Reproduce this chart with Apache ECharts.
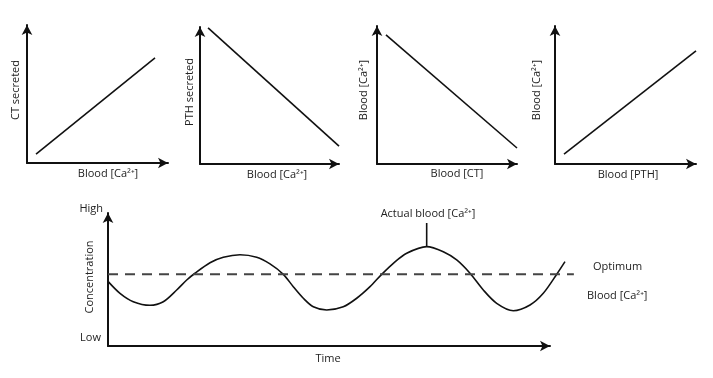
<!DOCTYPE html>
<html>
<head>
<meta charset="utf-8">
<script src="https://cdn.jsdelivr.net/npm/echarts@6/dist/echarts.min.js"></script>
<style>html,body{margin:0;padding:0;background:#fff}#c{width:713px;height:378px}</style>
</head>
<body>
<div id="c"></div>
<script>
// ---- data ----
const ctSecreted = [[0.64, 0.65], [9.08, 7.61]];        // CT secreted vs blood Ca
const pthSecreted = [[0.58, 9.93], [10.0, 1.31]];       // PTH secreted vs blood Ca
const caVsCT = [[0.64, 9.35], [10.0, 1.16]];            // blood Ca vs blood CT
const caVsPTH = [[0.64, 0.72], [10.0, 8.2]];            // blood Ca vs blood PTH
const timeX = [0, 2.71, 5.72, 9.50, 12.51, 15.54, 17.81, 19.68, 23.08, 26.09, 29.86, 33.64, 36.65, 39.66, 41.92, 44.19, 46.45, 49.48, 53.23, 56.27, 59.28, 61.92, 64.55, 67.58, 72.10, 75.86, 78.89, 81.90, 84.91, 87.94, 91.70, 95.48, 98.48, 101.52, 103.39];
const actualCa = [4.86, 3.96, 3.33, 3.06, 3.33, 4.21, 4.96, 5.47, 6.26, 6.67, 6.86, 6.67, 6.17, 5.39, 4.46, 3.59, 2.95, 2.71, 2.95, 3.59, 4.46, 5.39, 6.22, 6.97, 7.47, 7.09, 6.47, 5.47, 4.21, 3.21, 2.65, 3.08, 3.96, 5.39, 6.34];
const optimumLevel = 5.39;
const optimumSpan = [0, 105.4];
const peakMarker = [[72.10, 7.47], [72.10, 9.25]];
const panelXNames = ['Blood [Ca\u00b2\u207a]', 'Blood [Ca\u00b2\u207a]', 'Blood [CT]', 'Blood [PTH]'];
const panelYNames = ['CT secreted', 'PTH secreted', 'Blood [Ca\u00b2\u207a]', 'Blood [Ca\u00b2\u207a]'];
const bottomTexts = { high: 'High', low: 'Low', yName: 'Concentration', xName: 'Time', optimum: 'Optimum', blood: 'Blood [Ca\u00b2\u207a]', actual: 'Actual blood [Ca\u00b2\u207a]' };

// ---- chart ----
const FONT = '"Open Sans", sans-serif';
const TXT = '#222';
const grids = [
  { left: 27, top: 25, width: 141, height: 138 },
  { left: 200, top: 27, width: 139, height: 137 },
  { left: 377, top: 26, width: 140, height: 138 },
  { left: 555, top: 26, width: 141, height: 138 },
  { left: 108, top: 213, width: 442, height: 133 },
  { left: 108, top: 213, width: 486.2, height: 133 }   // overlay for curve (same scale, wider)
];
function axis(i, max, show) {
  return {
    type: 'value', gridIndex: i, min: 0, max: max,
    axisLine: { show: show, onZero: false, symbol: ['none', 'arrow'], symbolSize: [8, 10], lineStyle: { color: '#111', width: 2 } },
    axisTick: { show: false }, axisLabel: { show: false }, splitLine: { show: false }
  };
}
const xAxes = [axis(0, 10, true), axis(1, 10, true), axis(2, 10, true), axis(3, 10, true), axis(4, 100, true), axis(5, 110, false)];
const yAxes = [axis(0, 10, true), axis(1, 10, true), axis(2, 10, true), axis(3, 10, true), axis(4, 10, true), axis(5, 10, false)];
const lineStyle = { color: '#111', width: 1.6 };
function seg(i, data) {
  return { type: 'line', xAxisIndex: i, yAxisIndex: i, data: data, symbol: 'none', clip: false, lineStyle: lineStyle, silent: true };
}
const series = [
  seg(0, ctSecreted), seg(1, pthSecreted), seg(2, caVsCT), seg(3, caVsPTH),
  { type: 'line', xAxisIndex: 5, yAxisIndex: 5, data: timeX.map((x, k) => [x, actualCa[k]]), symbol: 'none', smooth: 0.3, clip: false, lineStyle: lineStyle },
  { type: 'line', xAxisIndex: 5, yAxisIndex: 5, data: optimumSpan.map(x => [x, optimumLevel]), symbol: 'none', clip: false, lineStyle: { color: '#444', width: 2, type: [10, 7] } },
  seg(5, peakMarker)
];
function txt(x, y, text) {
  return { type: 'text', x: x, y: y, style: { text: text, font: '11px ' + FONT, fill: TXT, align: 'center', verticalAlign: 'middle' } };
}
function vtxt(x, y, text) {
  return { type: 'text', x: x, y: y, rotation: Math.PI / 2, style: { text: text, font: '11px ' + FONT, fill: TXT, align: 'center', verticalAlign: 'middle' } };
}
function ltxt(x, y, text, align) {
  return { type: 'text', x: x, y: y, style: { text: text, font: '11px ' + FONT, fill: TXT, align: align, verticalAlign: 'middle' } };
}
const graphics = [
  txt(108, 174, panelXNames[0]), txt(277, 175, panelXNames[1]), txt(457, 174, panelXNames[2]), txt(628, 175, panelXNames[3]),
  vtxt(16, 90, panelYNames[0]), vtxt(190, 92, panelYNames[1]), vtxt(364, 90, panelYNames[2]), vtxt(537, 90, panelYNames[3]),
  ltxt(103, 209, bottomTexts.high, 'right'),
  ltxt(101, 338, bottomTexts.low, 'right'),
  vtxt(90, 277, bottomTexts.yName),
  txt(328, 359, bottomTexts.xName),
  txt(428, 214, bottomTexts.actual),
  ltxt(593, 267, bottomTexts.optimum, 'left'),
  ltxt(587, 296, bottomTexts.blood, 'left')
];
const chart = echarts.init(document.getElementById('c'), null, { renderer: 'canvas' });
chart.setOption({
  backgroundColor: '#fff',
  animation: false,
  grid: grids,
  xAxis: xAxes,
  yAxis: yAxes,
  series: series,
  graphic: graphics
});
</script>
</body>
</html>
